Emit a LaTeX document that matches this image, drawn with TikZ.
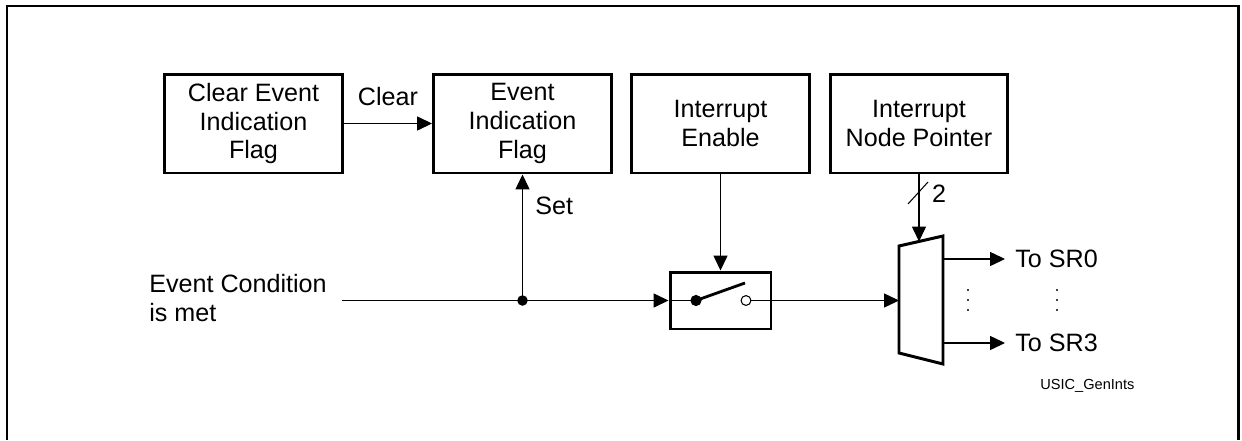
\documentclass[tikz,border=0pt]{standalone}
\usepackage{fontspec}
\setmainfont{Liberation Sans}
\usetikzlibrary{arrows.meta}

\tikzset{
  blk/.style={draw,line width=1.7pt,minimum width=3.56cm,minimum height=1.98cm,
    align=center,inner sep=0pt,font=\fontsize{14.3}{16.4}\selectfont},
  lbl/.style={inner sep=0pt,font=\fontsize{14.3}{16.4}\selectfont},
  wire/.style={line width=0.6pt},
  sig/.style={line width=0.6pt,-{Triangle[length=8.5pt,width=8pt]}},
}

\begin{document}
\begin{tikzpicture}[x=0.02cm,y=-0.02cm]
\useasboundingbox (0,0) rectangle (1242,440);
% frame, open at the bottom
\draw[line width=1.7pt] (7,440) -- (7,6) -- (1238,6) -- (1238,440);

% register blocks
\node[blk] (clr) at (253.5,123.5) {Clear Event\\Indication\\Flag};
\node[blk] (eif) at (522.5,123.5) {Event\\Indication\\Flag};
\node[blk] (ien) at (720.5,123.5) {Interrupt\\Enable};
\node[blk] (inp) at (919,123.5) {Interrupt\\Node Pointer};

\draw[sig] (clr) -- (eif) node[lbl,midway,above=10pt] {Clear};

% event input and set path
\node[lbl,anchor=west,align=left] (evc) at (149,298) {Event Condition\\is met};
\coordinate (ein) at (342,300.5);
\coordinate (jn) at (522.5,300.5);
\draw[wire] (ein) -- (jn);
\fill (jn) circle (3pt);
\draw[sig] (jn) -- (eif.south) node[lbl,pos=0.75,right=7pt] {Set};

% enable switch
\node[draw,line width=1.7pt,minimum width=2.02cm,minimum height=1.14cm] (sw) at (720.5,300.5) {};
\coordinate (swa) at (696,300.5);
\coordinate (swb) at (745,283);
\coordinate (swc) at (746,300.5);
\draw[sig] (jn) -- (sw.west);
\draw[sig] (ien.south) -- (sw.north);
\draw[wire] (sw.west) -- (swa);
\fill (swa) circle (3.2pt);
\draw[line width=1.6pt] (swa) -- (swb);
\draw[wire] (swc) circle (2.8pt);
\draw[wire] ([xshift=2.8pt]swc) -- (sw.east);

% node pointer multiplexer
\coordinate (m1) at (899,246);
\coordinate (m2) at (943,236);
\coordinate (m3) at (943,364);
\coordinate (m4) at (899,353);
\draw[line width=1.7pt,line join=miter] (m1) -- (m2) -- (m3) -- (m4) -- cycle;
\coordinate (mxin) at (899,300.5);
\coordinate (msel) at (919,241.5);
\draw[sig] (sw.east) -- (mxin);
\draw[sig] (inp.south) -- (msel);
\draw[wire] (908,204) -- (928,182);
\node[lbl] (nsel) at (939,194) {2};

% outputs
\coordinate (mo0) at (943,259);
\coordinate (mo3) at (943,343);
\node[lbl,anchor=west,inner xsep=5.7pt] (sr0) at (1005,259) {To SR0};
\node[lbl,anchor=west,inner xsep=5.7pt] (sr3) at (1005,343) {To SR3};
\draw[sig] (mo0) -- (sr0.west);
\draw[sig] (mo3) -- (sr3.west);
\foreach \y in {290,300,310} {
  \fill (968,\y) circle (0.6pt);
  \fill (1057,\y) circle (0.6pt);
}

\node[anchor=west,inner sep=0pt,font=\fontsize{8.3}{10}\selectfont] (fig) at (1040,386) {USIC\_GenInts};
\end{tikzpicture}
\end{document}
